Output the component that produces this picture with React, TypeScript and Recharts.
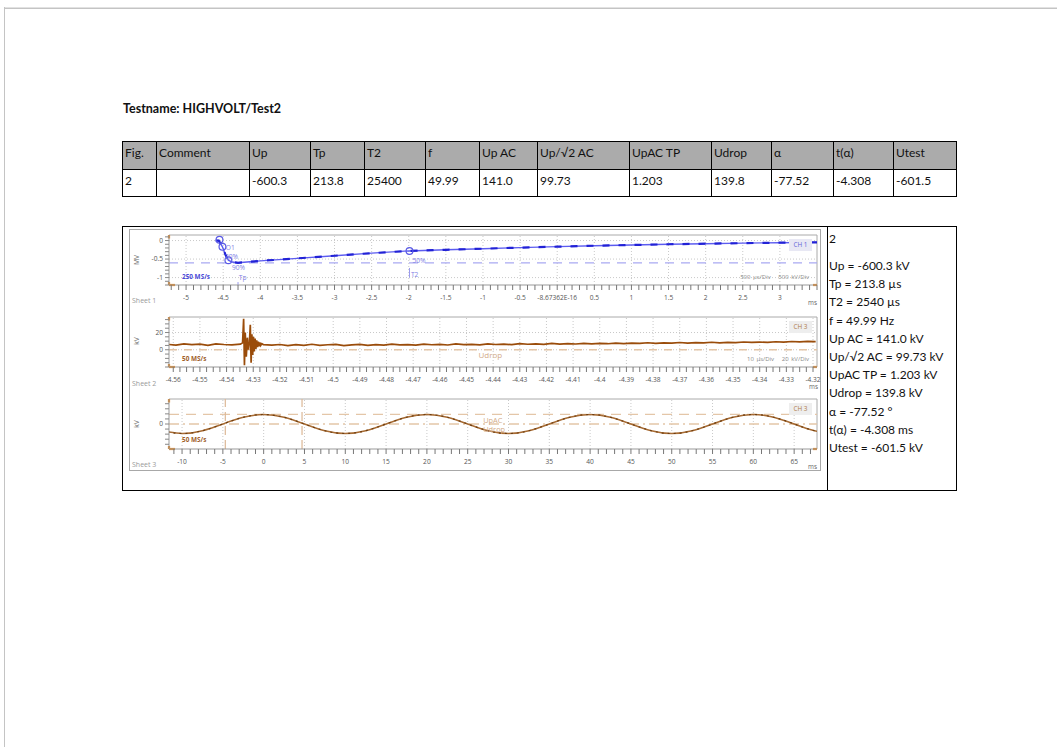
import React from 'react';
import { ComposedChart, Line, Scatter, XAxis, YAxis, ReferenceLine } from 'recharts';

const FONT_DOC = 'Lato, "Liberation Sans", sans-serif';
const FONT_SCOPE = '"Open Sans", "DejaVu Sans", sans-serif';

// ---- report header / table ----
const testName = 'Testname: HIGHVOLT/Test2';
const tableHeaders = ['Fig.', 'Comment', 'Up', 'Tp', 'T2', 'f', 'Up AC', 'Up/√2 AC', 'UpAC TP', 'Udrop', 'α', 't(α)', 'Utest'];
const tableValues = ['2', '', '-600.3', '213.8', '25400', '49.99', '141.0', '99.73', '1.203', '139.8', '-77.52', '-4.308', '-601.5'];
const colWidths = [34, 93, 61, 54, 61, 54, 58, 92, 82, 60, 62, 60, 64];

const figureNo = '2';
const summaryLines = [
  'Up = -600.3 kV', 'Tp = 213.8 µs', 'T2 = 2540 µs', 'f = 49.99 Hz', 'Up AC = 141.0 kV',
  'Up/√2 AC = 99.73 kV', 'UpAC TP = 1.203 kV', 'Udrop = 139.8 kV', 'α = -77.52 °',
  't(α) = -4.308 ms', 'Utest = -601.5 kV',
];

// ---- Sheet 1: lightning impulse, MV over ms ----
const impulseTime = [-4.6, -4.56, -4.51, -4.47, -4.43, -4.38, -4.3, -4.0, -3.5, -3.0, -2.5, -2.0, -1.5, -1.0, -0.5, 0, 0.5, 1.0, 1.5, 2.0, 2.5, 3.0, 3.5];
const impulseMV = [0, 0, -0.17, -0.38, -0.53, -0.58, -0.6, -0.55, -0.48, -0.41, -0.34, -0.28, -0.25, -0.22, -0.19, -0.165, -0.14, -0.12, -0.1, -0.085, -0.07, -0.058, -0.05];
const impulseLevel = -0.6;
const impulseMarkTime = [-4.55, -4.51, -4.43, -1.99];
const impulseMarkMV = [0.02, -0.17, -0.53, -0.28];
const impulseNoteText = ['O1', '30%', '90%', 'Tp', '50%', 'T2'];
const impulseNoteTime = [-4.465, -4.475, -4.38, -4.29, -1.95, -1.97];
const impulseNoteMV = [-0.19, -0.42, -0.74, -0.99, -0.55, -0.93];
const impulseTicks = [-5, -4.5, -4, -3.5, -3, -2.5, -2, -1.5, -1, -0.5, 0, 0.5, 1, 1.5, 2, 2.5, 3];
const impulseTickLabels = ['-5', '-4.5', '-4', '-3.5', '-3', '-2.5', '-2', '-1.5', '-1', '-0.5', '-8.67362E-16', '0.5', '1', '1.5', '2', '2.5', '3'];
const impulseYTicks = [0, -0.5, -1];
const impulseYLabels = ['0', '-0.5', '-1'];

// ---- Sheet 2: chopped-region zoom, kV over ms ----
const noiseStart = -4.562;
const noiseStep = 0.003;
const noiseKv = [
  6.2, 5.4, 6.8, 5.9, 6.5, 5.2, 6.9, 6.1, 5.7,
  6.0, 6.0, 6.0, 6.0,
  5.3, 6.1, 4.8, 5.9, 5.2, 6.4, 5.0, 5.8, 6.2, 4.9, 5.7, 6.3, 5.1, 5.9, 5.4, 6.5, 5.6, 6.0,
  5.3, 6.6, 5.8, 6.2, 5.5, 6.8, 5.9, 6.3, 5.7, 6.9, 6.1, 6.6, 5.9, 7.1, 6.4, 6.8, 6.2, 7.3, 6.6, 7.0,
  6.7, 7.5, 6.9, 7.4, 7.0, 7.8, 7.2, 7.6, 7.3, 8.1, 7.5, 7.9, 7.6, 8.4, 7.8, 8.2, 7.9, 8.7, 8.1, 8.5,
  8.3, 9.0, 8.5, 8.9, 8.6, 9.3, 8.8, 9.6, 9.1, 9.8, 9.5,
];
const burstTime = [-4.5348, -4.534, -4.5336, -4.5333, -4.533, -4.5326, -4.5322, -4.5318, -4.5314, -4.5311, -4.5308, -4.5305, -4.5302, -4.5299, -4.5296, -4.5293, -4.529, -4.5287, -4.5284, -4.5281, -4.5278, -4.5275, -4.5272, -4.5268, -4.5262];
const burstKv = [6.5, 8, 36, -18, 20, -8, 14, 0, 10, 29, -15, 18, -6, 15, -2, 13, 1, 11, 3, 9.5, 4, 8.5, 5, 7, 6];
const chopTickLabels = ['-4.56', '-4.55', '-4.54', '-4.53', '-4.52', '-4.51', '-4.5', '-4.49', '-4.48', '-4.47', '-4.46', '-4.45', '-4.44', '-4.43', '-4.42', '-4.41', '-4.4', '-4.39', '-4.38', '-4.37', '-4.36', '-4.35', '-4.34', '-4.33', '-4.32'];
const chopYTicks = [20, 0];
const chopYLabels = ['20', '0'];

// ---- Sheet 3: AC voltage, kV over ms ----
const acTime = [-12.5, -10, -7.5, -5, -2.5, 0, 2.5, 5, 7.5, 10, 12.5, 15, 17.5, 20, 22.5, 25, 27.5, 30, 32.5, 35, 37.5, 40, 42.5, 45, 47.5, 50, 52.5, 55, 57.5, 60, 62.5, 65, 67.5, 70];
const acKv = [-99.7, -141, -99.7, 0, 99.7, 141, 99.7, 0, -99.7, -141, -99.7, 0, 99.7, 141, 99.7, 0, -99.7, -141, -99.7, 0, 99.7, 141, 99.7, 0, -99.7, -141, -99.7, 0, 99.7, 141, 99.7, 0, -99.7, -141];
const acPeak = 141;
const acCursors = [-4.7, 4.7];
const acTicks = [-10, -5, 0, 5, 10, 15, 20, 25, 30, 35, 40, 45, 50, 55, 60, 65];
const acYTicks = [0];
const acYLabels = ['0'];

const zip = (t: number[], v: number[]) => t.map((x, i) => ({ t: x, v: v[i] }));
const steps = (from: number, to: number, div: number) => {
  const out: number[] = [];
  for (let i = from; i <= to; i++) out.push(i / div);
  return out;
};

const impulseData = zip(impulseTime, impulseMV);
const impulseMarks = zip(impulseMarkTime, impulseMarkMV);
const impulseNotes = impulseNoteText.map((label, i) => ({ t: impulseNoteTime[i], v: impulseNoteMV[i], label }));

const chopData = [
  ...noiseKv
    .map((v, i) => ({ t: noiseStart + i * noiseStep, v }))
    .filter(p => p.t < -4.5352 || p.t > -4.5258),
  ...zip(burstTime, burstKv),
].sort((a, b) => a.t - b.t);
const chopTicks = chopTickLabels.map(Number);
const chopNotes = [{ t: -4.4455, v: -7, label: 'Udrop' }];

const acData = zip(acTime, acKv);
const acNotes = [{ t: 26.9, v: 52, label: 'UpAC' }, { t: 26.9, v: -80, label: 'Udrop' }];

const GRID = '#c9c9c9';
const ORANGE = '#e8861e';

function xTick(majors: number[], labels: string[]) {
  return (p: any) => {
    const i = majors.findIndex(m => Math.abs(m - p.payload.value) < 1e-6);
    if (i < 0) return <g />;
    return (
      <text x={p.x} y={p.y} dy={7.5} textAnchor="middle" fontSize={6.6} fill="#555" fontFamily={FONT_SCOPE}>
        {labels[i]}
      </text>
    );
  };
}

function yTick(majors: number[], labels: string[]) {
  return (p: any) => {
    const i = majors.findIndex(m => Math.abs(m - p.payload.value) < 1e-6);
    if (i < 0) return <g />;
    return (
      <text x={p.x} y={p.y} dy={2.4} textAnchor="end" fontSize={6.6} fill="#555" fontFamily={FONT_SCOPE}>
        {labels[i]}
      </text>
    );
  };
}

const noteShape = (color: string, size = 6.6) => (p: any) => (
  <text x={p.cx} y={p.cy} dy={2.4} fontSize={size} fill={color} fontFamily={FONT_SCOPE}>{p.payload.label}</text>
);

// orange handles at the plot corners, like the scope software draws them
function cornerMarks(xd: number[], yd: number[]) {
  const dx = (xd[1] - xd[0]) / 130;
  const dy = (yd[1] - yd[0]) / 10;
  const segs = [
    [{ x: xd[0], y: yd[1] }, { x: xd[0], y: yd[1] - dy * 0.7 }],
    [{ x: xd[0], y: yd[0] }, { x: xd[0], y: yd[0] + dy * 0.6 }],
    [{ x: xd[0], y: yd[0] }, { x: xd[0] + dx * 1.2, y: yd[0] }],
    [{ x: xd[1] - dx * 0.8, y: yd[0] }, { x: xd[1], y: yd[0] }],
  ];
  return segs.map((s, i) => (
    <ReferenceLine key={`c${i}`} segment={s as any} stroke={ORANGE} strokeWidth={2.2} ifOverflow="visible" />
  ));
}

const Tag = ({ style, children }: any) => (
  <div style={{ position: 'absolute', whiteSpace: 'nowrap', fontFamily: FONT_SCOPE, lineHeight: 1, ...style }}>{children}</div>
);

const Unit = ({ top, text }: any) => (
  <Tag style={{ left: 8, top, transform: 'translate(-50%,-50%) rotate(-90deg)', fontSize: 6.8, color: '#666' }}>{text}</Tag>
);

const ChannelBox = ({ text, color, bg }: any) => (
  <Tag style={{ left: 660, top: 10, width: 23, height: 12, background: bg, color, fontSize: 6.4, display: 'flex', alignItems: 'center', justifyContent: 'center' }}>{text}</Tag>
);

const W = 692;

function Sheet1() {
  const xd = [-5.23, 3.5];
  const yd = [-1.2, 0.15];
  return (
    <div style={{ position: 'relative', width: W, height: 82 }}>
      <ComposedChart width={W} height={82} margin={{ top: 6, right: 4, bottom: 0, left: 0 }}>
        <XAxis type="number" dataKey="t" domain={xd} allowDataOverflow ticks={steps(-52, 35, 10)} interval={0}
          tick={xTick(impulseTicks, impulseTickLabels)} tickSize={5} height={26}
          tickLine={{ stroke: '#777' }} axisLine={{ stroke: '#999' }} />
        <YAxis type="number" dataKey="v" domain={yd} allowDataOverflow ticks={steps(-12, 1, 10)} interval={0}
          tick={yTick(impulseYTicks, impulseYLabels)} tickSize={4} width={40}
          tickLine={{ stroke: '#888' }} axisLine={{ stroke: '#999' }} />
        {impulseTicks.map(t => <ReferenceLine key={`gx${t}`} x={t} stroke={GRID} strokeDasharray="1 2" />)}
        {impulseYTicks.map(v => <ReferenceLine key={`gy${v}`} y={v} stroke={GRID} strokeDasharray="1 2" />)}
        <ReferenceLine y={yd[1]} stroke="#aaa" />
        <ReferenceLine x={xd[1]} stroke="#aaa" />
        <ReferenceLine y={impulseLevel} stroke="#a9a9f2" strokeWidth={1.3} strokeDasharray="9 7" />
        <ReferenceLine segment={[{ x: -1.99, y: -0.74 }, { x: -1.99, y: -1.0 }]} stroke="#9a9aee" />
        <ReferenceLine segment={[{ x: -4.3, y: -1.12 }, { x: -4.3, y: -1.2 }]} stroke="#9a9aee" />
        <Line data={impulseData} dataKey="v" type="linear" stroke="#5c5cf0" strokeWidth={1.4} dot={false} isAnimationActive={false} />
        <Line data={impulseData} dataKey="v" type="linear" stroke="#2222d6" strokeWidth={2.2} strokeDasharray="7 9" dot={false} isAnimationActive={false} />
        <Scatter data={impulseMarks} dataKey="v" isAnimationActive={false}
          shape={(p: any) => <circle cx={p.cx} cy={p.cy} r={3.4} fill="none" stroke="#5a5ae6" strokeWidth={1.2} />} />
        <Scatter data={impulseNotes} dataKey="v" isAnimationActive={false} shape={noteShape('#8080e4')} />
        {cornerMarks(xd, yd)}
      </ComposedChart>
      <Unit top={31} text="MV" />
      <Tag style={{ left: 3, top: 68, fontSize: 7, color: '#9a9a9a' }}>Sheet 1</Tag>
      <Tag style={{ left: 53, top: 45, fontSize: 6.4, fontWeight: 700, color: '#4a4ad8' }}>250 MS/s</Tag>
      <ChannelBox text="CH 1" color="#6464d8" bg="#e8e8f4" />
      <Tag style={{ right: 12, top: 45, fontSize: 6, color: '#8a8a8a', wordSpacing: 1 }}>500 µs/Div&nbsp;&nbsp; 500 kV/Div</Tag>
      <Tag style={{ left: 679, top: 71, fontSize: 6.4, color: '#666' }}>ms</Tag>
    </div>
  );
}

function Sheet2() {
  const xd = [-4.5616, -4.3185];
  const yd = [-20, 38];
  return (
    <div style={{ position: 'relative', width: W, height: 82 }}>
      <ComposedChart width={W} height={82} margin={{ top: 6, right: 4, bottom: 0, left: 0 }}>
        <XAxis type="number" dataKey="t" domain={xd} allowDataOverflow ticks={steps(-1824, -1728, 400)} interval={0}
          tick={xTick(chopTicks, chopTickLabels)} tickSize={5} height={26}
          tickLine={{ stroke: '#777' }} axisLine={{ stroke: '#999' }} />
        <YAxis type="number" dataKey="v" domain={yd} allowDataOverflow ticks={steps(-4, 7, 0.2)} interval={0}
          tick={yTick(chopYTicks, chopYLabels)} tickSize={4} width={40}
          tickLine={{ stroke: '#888' }} axisLine={{ stroke: '#999' }} />
        {chopTicks.map(t => <ReferenceLine key={`gx${t}`} x={t} stroke={GRID} strokeDasharray="1 2" />)}
        {chopYTicks.map(v => <ReferenceLine key={`gy${v}`} y={v} stroke={GRID} strokeDasharray="1 2" />)}
        <ReferenceLine y={yd[1]} stroke="#aaa" />
        <ReferenceLine x={xd[1]} stroke="#aaa" />
        <ReferenceLine y={0} stroke="#e4c6a8" strokeWidth={1.3} strokeDasharray="8 7" />
        <Line data={chopData} dataKey="v" type="linear" stroke="#9a4c0a" strokeWidth={1.7} dot={false} isAnimationActive={false} />
        <Scatter data={chopNotes} dataKey="v" isAnimationActive={false} shape={noteShape('#d2aa88', 8)} />
        {cornerMarks(xd, yd)}
      </ComposedChart>
      <Unit top={30} text="kV" />
      <Tag style={{ left: 3, top: 69, fontSize: 7, color: '#9a9a9a' }}>Sheet 2</Tag>
      <Tag style={{ left: 53, top: 45, fontSize: 6.4, fontWeight: 700, color: '#a0602a' }}>50 MS/s</Tag>
      <ChannelBox text="CH 3" color="#b07a4a" bg="#eeeeee" />
      <Tag style={{ right: 12, top: 45, fontSize: 6, color: '#8a8a8a', wordSpacing: 1 }}>10 µs/Div&nbsp;&nbsp; 20 kV/Div</Tag>
      <Tag style={{ left: 680, top: 73, fontSize: 6.4, color: '#666' }}>ms</Tag>
    </div>
  );
}

function Sheet3() {
  const xd = [-11.6, 67.8];
  const yd = [-370, 370];
  return (
    <div style={{ position: 'relative', width: W, height: 78 }}>
      <ComposedChart width={W} height={78} margin={{ top: 6, right: 4, bottom: 0, left: 0 }}>
        <XAxis type="number" dataKey="t" domain={xd} allowDataOverflow ticks={steps(-11, 67, 1)} interval={0}
          tick={xTick(acTicks, acTicks.map(String))} tickSize={5} height={22}
          tickLine={{ stroke: '#777' }} axisLine={{ stroke: '#999' }} />
        <YAxis type="number" dataKey="v" domain={yd} allowDataOverflow ticks={steps(-4, 4, 1 / 75)} interval={0}
          tick={yTick(acYTicks, acYLabels)} tickSize={4} width={40}
          tickLine={{ stroke: '#888' }} axisLine={{ stroke: '#999' }} />
        {acTicks.map(t => <ReferenceLine key={`gx${t}`} x={t} stroke={GRID} strokeDasharray="1 2" />)}
        <ReferenceLine y={yd[1]} stroke="#aaa" />
        <ReferenceLine x={xd[1]} stroke="#aaa" />
        <ReferenceLine y={acPeak} stroke="#e4c6a8" strokeWidth={1.3} strokeDasharray="10 7" />
        <ReferenceLine y={0} stroke="#e4c6a8" strokeWidth={1.3} strokeDasharray="10 4 2 4" />
        {acCursors.map(t => <ReferenceLine key={`cur${t}`} x={t} stroke="#dcb896" strokeWidth={1.2} strokeDasharray="9 5" />)}
        <Line data={acData} dataKey="v" type="natural" stroke="#a86c34" strokeWidth={1.5} dot={false} isAnimationActive={false} />
        <Line data={acData} dataKey="v" type="natural" stroke="#6e3e10" strokeWidth={1.2} strokeDasharray="2 4" dot={false} isAnimationActive={false} />
        <Scatter data={acNotes} dataKey="v" isAnimationActive={false} shape={noteShape('#d2aa88', 7.4)} />
        {cornerMarks(xd, yd)}
      </ComposedChart>
      <Unit top={31} text="kV" />
      <Tag style={{ left: 3, top: 68, fontSize: 7, color: '#9a9a9a' }}>Sheet 3</Tag>
      <Tag style={{ left: 53, top: 44, fontSize: 6.4, fontWeight: 700, color: '#a0602a' }}>50 MS/s</Tag>
      <ChannelBox text="CH 3" color="#b07a4a" bg="#eeeeee" />
      <Tag style={{ left: 679, top: 71, fontSize: 6.4, color: '#666' }}>ms</Tag>
    </div>
  );
}

export default function App() {
  const last = colWidths.length - 1;
  return (
    <div style={{ position: 'relative', width: 1057, height: 747, background: '#fff', overflow: 'hidden', fontFamily: FONT_DOC }}>
      <style>{'body{margin:0}'}</style>
      {/* page edge */}
      <div style={{ position: 'absolute', left: 4, top: 7, right: 0, height: 0, borderTop: '1px solid #e2e2e2' }} />
      <div style={{ position: 'absolute', left: 5, top: 8, right: 0, height: 0, borderTop: '1px solid #c4c4c4' }} />
      <div style={{ position: 'absolute', left: 4, top: 7, bottom: 0, width: 0, borderLeft: '1px solid #c4c4c4' }} />

      <div style={{ position: 'absolute', left: 123, top: 101, fontSize: 12.5, fontWeight: 700, color: '#111' }}>{testName}</div>

      <div style={{ position: 'absolute', left: 122, top: 141 }}>
        {[tableHeaders, tableValues].map((row, r) => (
          <div key={r} style={{ display: 'flex', height: 28 }}>
            {row.map((txt, i) => (
              <div key={i} style={{
                width: colWidths[i], boxSizing: 'border-box', borderLeft: '1px solid #000', borderTop: '1px solid #000',
                borderRight: i === last ? '1px solid #000' : undefined, borderBottom: r === 1 ? '1px solid #000' : undefined,
                background: r === 0 ? '#ababab' : '#fff', padding: '3px 0 0 2px', fontSize: 12, lineHeight: '16px', color: '#111',
                whiteSpace: 'nowrap', overflow: 'hidden',
              }}>{txt}</div>
            ))}
          </div>
        ))}
      </div>

      {/* figure cell */}
      <div style={{ position: 'absolute', left: 122, top: 226, width: 835, height: 265, boxSizing: 'border-box', border: '1px solid #000' }} />
      <div style={{ position: 'absolute', left: 827, top: 226, width: 0, height: 265, borderLeft: '1px solid #000' }} />
      <div style={{ position: 'absolute', left: 129, top: 229, width: 692, height: 242, boxSizing: 'border-box', border: '1px solid #a8a8a8' }} />
      <div style={{ position: 'absolute', left: 129, top: 229 }}>
        <Sheet1 />
        <Sheet2 />
        <Sheet3 />
      </div>

      <div style={{ position: 'absolute', left: 829, top: 231, fontSize: 12, lineHeight: '16px', color: '#111' }}>{figureNo}</div>
      <div style={{ position: 'absolute', left: 829, top: 257, fontSize: 12, lineHeight: '18.2px', color: '#111' }}>
        {summaryLines.map((s, i) => <div key={i} style={{ whiteSpace: 'nowrap' }}>{s}</div>)}
      </div>
    </div>
  );
}
